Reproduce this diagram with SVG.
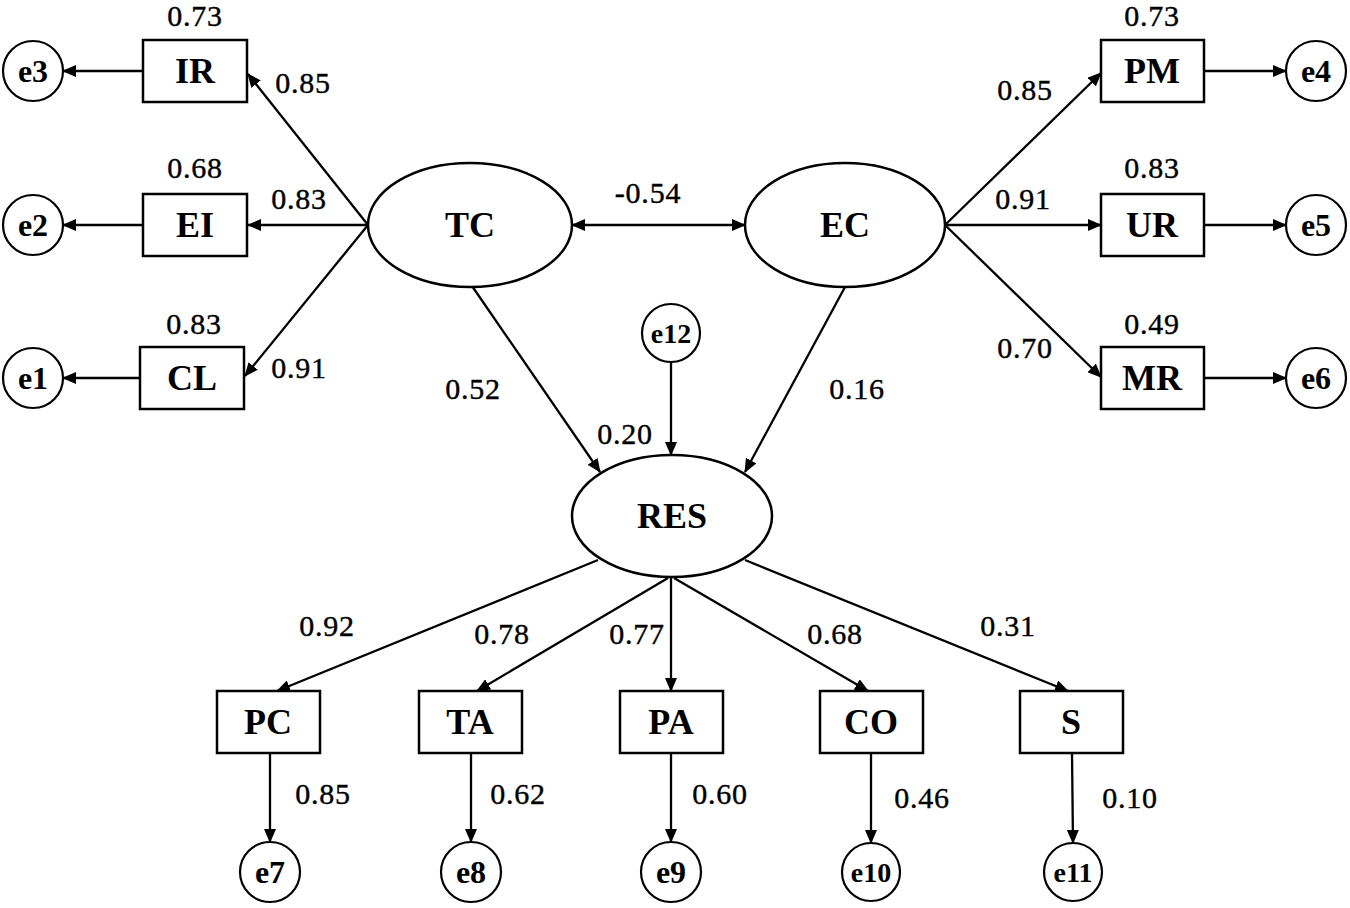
<svg xmlns="http://www.w3.org/2000/svg" width="1350" height="908" viewBox="0 0 1350 908">
<defs>
<marker id="arr" viewBox="0 0 14 12" refX="13" refY="6" markerWidth="14" markerHeight="12" markerUnits="userSpaceOnUse" orient="auto-start-reverse">
<path d="M0,0 L14,6 L0,12 Z" fill="#000"/>
</marker>
<style>
.box{fill:#fff;stroke:#000;stroke-width:2.5}
.lat{fill:#fff;stroke:#000;stroke-width:2.5}
.err{fill:#fff;stroke:#000;stroke-width:2.2}
.c{fill:none;stroke:#000;stroke-width:2.3;marker-end:url(#arr)}
.dbl{marker-start:url(#arr)}
.nl{font-family:"Liberation Serif","Times New Roman",serif;font-weight:bold;font-size:36px;text-anchor:middle;fill:#000}
.el{font-family:"Liberation Serif","Times New Roman",serif;font-weight:bold;font-size:32px;text-anchor:middle;fill:#000}
.es{font-family:"Liberation Serif","Times New Roman",serif;font-weight:bold;font-size:28px;text-anchor:middle;fill:#000}
.num{font-family:"Liberation Serif","Times New Roman",serif;font-size:30px;text-anchor:middle;fill:#000;letter-spacing:0.8px;stroke:#000;stroke-width:0.4}
</style>
</defs>
<rect width="1350" height="908" fill="#fff"/>

<g id="connectors">
<path class="c" d="M143,71 L63,71"/>
<path class="c" d="M143,225 L63,225"/>
<path class="c" d="M140,378 L63,378"/>
<path class="c" d="M368,225 L248,74"/>
<path class="c" d="M368,225 L248,225"/>
<path class="c" d="M368,225 L245,376"/>
<path class="c" d="M945,225 L1101,73"/>
<path class="c" d="M945,225 L1101,225"/>
<path class="c" d="M945,225 L1101,377"/>
<path class="c" d="M1204,71 L1286,71"/>
<path class="c" d="M1204,225 L1286,225"/>
<path class="c" d="M1204,378 L1286,378"/>
<path class="c dbl" d="M572,225 L745,225"/>
<path class="c" d="M472,286 L600,472"/>
<path class="c" d="M845,287 L745,472"/>
<path class="c" d="M671,362 L671,455"/>
<path class="c" d="M598,560 L277,691"/>
<path class="c" d="M668,578 L477,691"/>
<path class="c" d="M671,578 L671,691"/>
<path class="c" d="M674,578 L868,691"/>
<path class="c" d="M745,560 L1068,691"/>
<path class="c" d="M270,753 L270,842"/>
<path class="c" d="M471,753 L471,842"/>
<path class="c" d="M671,753 L671,842"/>
<path class="c" d="M871,753 L871,843"/>
<path class="c" d="M1072,753 L1073,843"/>
</g>

<g id="labels">
<text class="num" x="195" y="26">0.73</text>
<text class="num" x="195" y="178">0.68</text>
<text class="num" x="194" y="334">0.83</text>
<text class="num" x="303" y="93">0.85</text>
<text class="num" x="299" y="209">0.83</text>
<text class="num" x="299" y="378">0.91</text>
<text class="num" x="1152" y="26">0.73</text>
<text class="num" x="1152" y="178">0.83</text>
<text class="num" x="1152" y="334">0.49</text>
<text class="num" x="1025" y="100">0.85</text>
<text class="num" x="1023" y="209">0.91</text>
<text class="num" x="1025" y="358">0.70</text>
<text class="num" x="648" y="203">-0.54</text>
<text class="num" x="473" y="399">0.52</text>
<text class="num" x="625" y="444">0.20</text>
<text class="num" x="857" y="399">0.16</text>
<text class="num" x="327" y="636">0.92</text>
<text class="num" x="502" y="644">0.78</text>
<text class="num" x="637" y="644">0.77</text>
<text class="num" x="835" y="644">0.68</text>
<text class="num" x="1008" y="636">0.31</text>
<text class="num" x="323" y="804">0.85</text>
<text class="num" x="518" y="804">0.62</text>
<text class="num" x="720" y="804">0.60</text>
<text class="num" x="922" y="808">0.46</text>
<text class="num" x="1130" y="808">0.10</text>
</g>

<g id="TC"><ellipse class="lat" cx="470" cy="225" rx="102" ry="62"/><text class="nl" x="470" y="237">TC</text></g>
<g id="EC"><ellipse class="lat" cx="845" cy="225" rx="100" ry="62"/><text class="nl" x="845" y="237">EC</text></g>
<g id="RES"><ellipse class="lat" cx="672" cy="516" rx="100" ry="61"/><text class="nl" x="672" y="528">RES</text></g>

<g id="IR"><rect class="box" x="143" y="40" width="104" height="62"/><text class="nl" x="195" y="83">IR</text></g>
<g id="EI"><rect class="box" x="143" y="194" width="104" height="62"/><text class="nl" x="195" y="237">EI</text></g>
<g id="CL"><rect class="box" x="140" y="347" width="104" height="62"/><text class="nl" x="192" y="390">CL</text></g>
<g id="PM"><rect class="box" x="1101" y="40" width="103" height="62"/><text class="nl" x="1152" y="83">PM</text></g>
<g id="UR"><rect class="box" x="1101" y="194" width="103" height="62"/><text class="nl" x="1152" y="237">UR</text></g>
<g id="MR"><rect class="box" x="1101" y="347" width="103" height="62"/><text class="nl" x="1152" y="390">MR</text></g>
<g id="PC"><rect class="box" x="217" y="691" width="103" height="62"/><text class="nl" x="268" y="734">PC</text></g>
<g id="TA"><rect class="box" x="419" y="691" width="103" height="62"/><text class="nl" x="470" y="734">TA</text></g>
<g id="PA"><rect class="box" x="620" y="691" width="103" height="62"/><text class="nl" x="671" y="734">PA</text></g>
<g id="CO"><rect class="box" x="820" y="691" width="103" height="62"/><text class="nl" x="871" y="734">CO</text></g>
<g id="S"><rect class="box" x="1020" y="691" width="103" height="62"/><text class="nl" x="1071" y="734">S</text></g>

<g id="e3"><circle class="err" cx="33" cy="71" r="30"/><text class="el" x="33" y="82">e3</text></g>
<g id="e2"><circle class="err" cx="33" cy="225" r="30"/><text class="el" x="33" y="236">e2</text></g>
<g id="e1"><circle class="err" cx="33" cy="378" r="30"/><text class="el" x="33" y="389">e1</text></g>
<g id="e4"><circle class="err" cx="1316" cy="71" r="30"/><text class="el" x="1316" y="82">e4</text></g>
<g id="e5"><circle class="err" cx="1316" cy="225" r="30"/><text class="el" x="1316" y="236">e5</text></g>
<g id="e6"><circle class="err" cx="1316" cy="378" r="30"/><text class="el" x="1316" y="389">e6</text></g>
<g id="e12"><circle class="err" cx="671" cy="333" r="29"/><text class="es" x="671" y="343">e12</text></g>
<g id="e7"><circle class="err" cx="270" cy="872" r="30"/><text class="el" x="270" y="883">e7</text></g>
<g id="e8"><circle class="err" cx="471" cy="872" r="30"/><text class="el" x="471" y="883">e8</text></g>
<g id="e9"><circle class="err" cx="671" cy="872" r="30"/><text class="el" x="671" y="883">e9</text></g>
<g id="e10"><circle class="err" cx="871" cy="872" r="29"/><text class="es" x="871" y="882">e10</text></g>
<g id="e11"><circle class="err" cx="1073" cy="872" r="29"/><text class="es" x="1073" y="882">e11</text></g>
</svg>
